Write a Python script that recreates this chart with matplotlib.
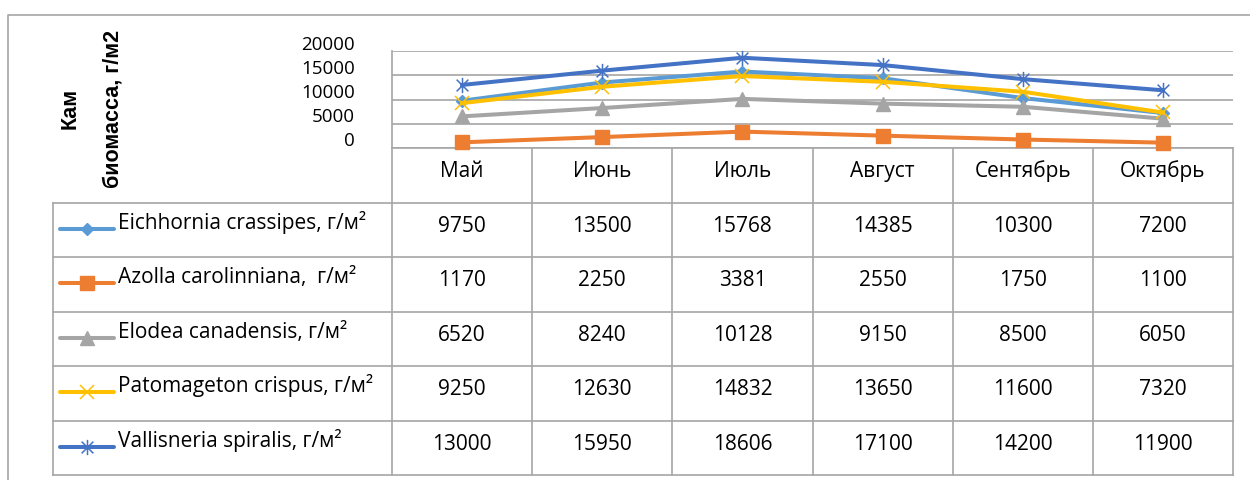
import matplotlib
matplotlib.use('Agg')
import matplotlib.pyplot as plt
import matplotlib.transforms as mtransforms
from matplotlib.path import Path
import numpy as np

plt.rcParams['font.family'] = ['Open Sans', 'DejaVu Sans']

# data
months = ['Май', 'Июнь', 'Июль', 'Август', 'Сентябрь', 'Октябрь']
series_names = ['Eichhornia crassipes, г/м²',
                'Azolla carolinniana,  г/м²',
                'Elodea canadensis, г/м²',
                'Patomageton crispus, г/м²',
                'Vallisneria spiralis, г/м²']
eichhornia = [9750, 13500, 15768, 14385, 10300, 7200]
azolla = [1170, 2250, 3381, 2550, 1750, 1100]
elodea = [6520, 8240, 10128, 9150, 8500, 6050]
patomageton = [9250, 12630, 14832, 13650, 11600, 7320]
vallisneria = [13000, 15950, 18606, 17100, 14200, 11900]
yticks = [0, 5000, 10000, 15000, 20000]

all_series = [eichhornia, azolla, elodea, patomageton, vallisneria]
l_color = ['#5B9BD5', '#ED7D31', '#A5A5A5', '#FFC000', '#4472C4']

# excel-like star: X with a vertical bar
star = Path([(-1, -1), (1, 1), (-1, 1), (1, -1), (0, -1.3), (0, 1.3)],
            [Path.MOVETO, Path.LINETO, Path.MOVETO, Path.LINETO, Path.MOVETO, Path.LINETO])
m_style = [dict(marker='D', ms=6.5),
           dict(marker='s', ms=10.5),
           dict(marker='^', ms=9.5),
           dict(marker='x', ms=10, mew=1.1),
           dict(marker=star, ms=11, mew=1.1)]

W, H = 1250, 480
grid_c = '#A6A6A6'
fs = 15

fig = plt.figure(figsize=(W / 100, H / 100), dpi=100)

# background axes in pixel coords for frame and data table
bg = fig.add_axes([0, 0, 1, 1])
bg.set_xlim(0, W)
bg.set_ylim(H, 0)
bg.axis('off')

# plot area (pixels)
pl, pr, pt, pb = 392, 1233, 51, 148
ax = fig.add_axes([pl / W, 1 - pb / H, (pr - pl) / W, (pb - pt) / H])
x = np.arange(len(months))
for i, ys in enumerate(all_series):
    ax.plot(x, ys, color=l_color[i], lw=2.9, mec=l_color[i],
            mfc='none' if i == 4 else l_color[i],
            clip_on=False, zorder=3 + i, **m_style[i])
ax.set_xlim(-0.5, len(months) - 0.5)
ax.set_ylim(0, 20000)
ax.set_yticks(yticks)
ax.set_xticks([])
ax.grid(axis='y', color=grid_c, lw=1.2)
ax.set_axisbelow(True)
for s in ['top', 'right']:
    ax.spines[s].set_visible(False)
for s in ['left', 'bottom']:
    ax.spines[s].set_color(grid_c)
    ax.spines[s].set_linewidth(1.2)
ax.tick_params(axis='y', length=0, pad=26.5, labelsize=13.5)
off = mtransforms.ScaledTranslation(0, 8.5 / 100, fig.dpi_scale_trans)
for lab in ax.get_yticklabels():
    lab.set_transform(lab.get_transform() + off)
ax.patch.set_alpha(0)

# outer chart border
bg.plot([8, 8, W], [H, 15, 15], color=grid_c, lw=1.2)

# y label
bg.text(70, 108, 'Кам', rotation=90, ha='center', va='center',
        fontsize=15.5, fontweight='bold', family=['Liberation Sans', 'DejaVu Sans'])
bg.text(113, 109, 'биомасса, г/м2', rotation=90, ha='center', va='center',
        fontsize=15.5, fontweight='bold', family=['Liberation Sans', 'DejaVu Sans'])

# data table
col_w = (pr - pl) / len(months)
head_top = pb
row_top0 = 203
row_h = (475 - row_top0) / len(all_series)
tab_left = 53
table_bottom = row_top0 + row_h * len(all_series)

for k in range(len(months) + 1):
    bg.plot([pl + k * col_w] * 2, [head_top, table_bottom], color=grid_c, lw=1.2)
for r in range(len(all_series) + 1):
    yy = row_top0 + r * row_h
    bg.plot([tab_left, pr], [yy, yy], color=grid_c, lw=1.2)
bg.plot([tab_left, tab_left], [row_top0, table_bottom], color=grid_c, lw=1.2)

for k, m in enumerate(months):
    bg.text(pl + (k + 0.5) * col_w, head_top + 29, m, ha='center', va='baseline', fontsize=fs)

for r, ys in enumerate(all_series):
    top = row_top0 + r * row_h
    for k, v in enumerate(ys):
        bg.text(pl + (k + 0.5) * col_w, top + 29, str(v), ha='center', va='baseline', fontsize=fs)
    # legend key
    yk = top + 26
    bg.plot([60, 114], [yk, yk], color=l_color[r], lw=2.9, solid_capstyle='round')
    bg.plot([87], [yk], color=l_color[r], mec=l_color[r],
            mfc='none' if r == 4 else l_color[r], **m_style[r])
    bg.text(118, yk, series_names[r], ha='left', va='baseline', fontsize=fs)

fig.savefig('out.png', dpi=100)
